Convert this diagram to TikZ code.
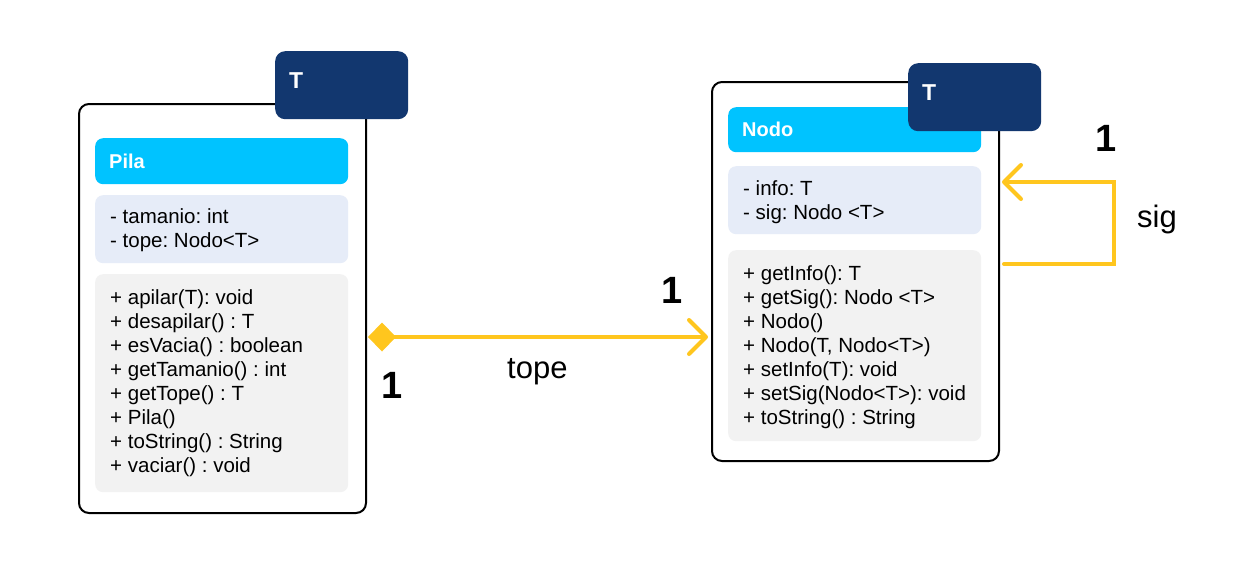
\documentclass[tikz,border=0pt]{standalone}
\usepackage{fontspec}
\setmainfont{Liberation Sans}
\usetikzlibrary{arrows.meta,calc}
\definecolor{darkblue}{HTML}{12376F}
\definecolor{headcyan}{HTML}{00C3FF}
\definecolor{attrbg}{HTML}{E6ECF8}
\definecolor{methbg}{HTML}{F2F2F2}
\definecolor{gold}{HTML}{FFC61E}
\frenchspacing
\tikzset{
  outerbox/.style={draw=black, line width=2pt, rounded corners=10pt, fill=white, anchor=north west, inner sep=0pt},
  tbox/.style={fill=darkblue, rounded corners=10pt, anchor=north west, minimum width=133pt, minimum height=68pt, inner sep=0pt},
  headbox/.style={fill=headcyan, rounded corners=8pt, anchor=north west, minimum width=253pt, inner sep=0pt},
  attrbox/.style={fill=attrbg, rounded corners=8pt, anchor=north west, minimum width=253pt, inner sep=0pt},
  methbox/.style={fill=methbg, rounded corners=8pt, anchor=north west, minimum width=253pt, inner sep=0pt},
  line/.style={anchor=base west, inner sep=0pt, font=\fontsize{20.5}{24}\selectfont},
  title/.style={anchor=base west, inner sep=0pt, text=white, font=\fontsize{20}{24}\selectfont\bfseries},
  tlabel/.style={anchor=base west, inner sep=0pt, text=white, font=\fontsize{23}{26}\selectfont\bfseries},
  mult/.style={anchor=base west, inner sep=0pt, font=\fontsize{38}{40}\selectfont\bfseries},
  role/.style={anchor=base west, inner sep=0pt, font=\fontsize{31}{34}\selectfont},
  conn/.style={draw=gold, line width=4pt, line cap=round, line join=miter},
}
\begin{document}
\begin{tikzpicture}[x=1pt,y=-1pt]
\useasboundingbox[fill=white] (0,0) rectangle (1244,571);

% ---------- Pila ----------
\node[outerbox, minimum width=287pt, minimum height=409pt] (pila) at (78,103) {};
\node[headbox, minimum height=46pt] (pilahead) at (95,138) {};
\node[title] (pilaname) at (109,168) {Pila};
\node[attrbox, minimum height=68pt] (pilaattr) at (95,195) {};
\node[line] (pa1) at (110,223) {- tamanio: int};
\node[line] (pa2) at (110,247) {- tope: Nodo<T>};
\node[methbox, minimum height=218pt] (pilameth) at (95,274) {};
\foreach \t [count=\i] in {{+ apilar(T): void},{+ desapilar() : T},{+ esVacia() : boolean},{+ getTamanio() : int},{+ getTope() : T},{+ Pila()},{+ toString() : String},{+ vaciar() : void}}
  \node[line] (pm\i) at (110,{280+24*\i}) {\t};
\node[tbox] (pilat) at (275,51) {};
\node[tlabel] (pilatl) at (289,88) {T};

% ---------- Nodo ----------
\node[outerbox, minimum width=287pt, minimum height=379pt] (nodo) at (711,81) {};
\node[headbox, minimum height=45pt] (nodohead) at (728,107) {};
\node[title] (nodoname) at (742,136) {Nodo};
\node[attrbox, minimum height=68pt] (nodoattr) at (728,166) {};
\node[line] (na1) at (743,195) {- info: T};
\node[line] (na2) at (743,219) {- sig: Nodo <T>};
\node[methbox, minimum height=191pt] (nodometh) at (728,250) {};
\foreach \t [count=\i] in {{+ getInfo(): T},{+ getSig(): Nodo <T>},{+ Nodo()},{+ Nodo(T, Nodo<T>)},{+ setInfo(T): void},{+ setSig(Nodo<T>): void},{+ toString() : String}}
  \node[line] (nm\i) at (743,{256+24*\i}) {\t};
\node[tbox] (nodot) at (908,63) {};
\node[tlabel] (nodotl) at (922,100) {T};

% ---------- tope association ----------
\draw[conn, {Diamond[length=28pt,width=29pt,line width=0pt,fill=gold]}-{Straight Barb[length=17pt,width=34pt,line width=4pt,round]}]
  ($(pila.east)+(1,28.5)$) coordinate (tstart) -- ($(tstart -| nodo.west)+(-3,0)$);
\node[mult] (m1) at (661,303) {1};
\node[mult] (m2) at (381,398) {1};
\node[role] (tope) at (507,378) {tope};

% ---------- sig self association ----------
\draw[conn, -{Straight Barb[length=17pt,width=34pt,line width=4pt,round]}]
  ($(nodo.east)+(4,-7.5)$) -| ($(nodo.east)+(114,-89.5)$) -- ($(nodo.east)+(2,-89.5)$);
\node[mult] (m3) at (1095,151) {1};
\node[role] (sig) at (1137,227) {sig};
\end{tikzpicture}
\end{document}
